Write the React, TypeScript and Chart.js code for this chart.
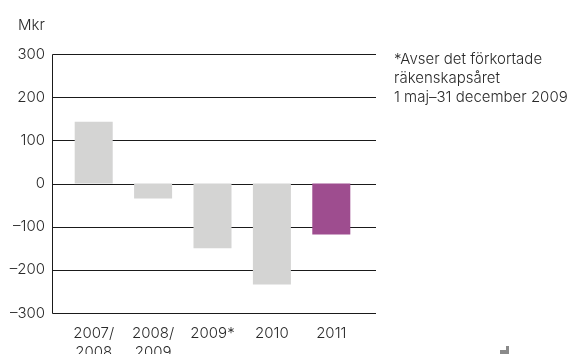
import React, { useEffect, useRef } from "react";
import { Chart, registerables } from "chart.js";

Chart.register(...registerables);

const categories: string[][] = [["2007/", "2008"], ["2008/", "2009"], ["2009*"], ["2010"], ["2011"]];
const values: number[] = [143, -35, -150, -234, -118];
const barColors: string[] = ["#d4d4d3", "#d4d4d3", "#d4d4d3", "#d4d4d3", "#9e4d8f"];
const yTicks: number[] = [-300, -200, -100, 0, 100, 200, 300];
const unitLabel = "Mkr";
const noteLines: string[] = ["*Avser det förkortade", "räkenskapsåret", "1 maj–31 december 2009"];

const FONT = "Inter, 'Liberation Sans', Arial, sans-serif";
const WEIGHT = "300";
const TEXT = "#2a2a2a";

const decorPlugin = {
  id: "decor",
  beforeDatasetsDraw(chart: any) {
    const { ctx, chartArea, scales } = chart;
    const y = scales.y;
    const left = Math.round(chartArea.left - 12) + 0.5;
    const right = Math.round(chartArea.right + 15);
    ctx.save();
    ctx.strokeStyle = "#1a1a1a";
    ctx.lineWidth = 1;
    yTicks.forEach((t) => {
      const py = Math.round(y.getPixelForValue(t)) + 0.5;
      ctx.beginPath();
      ctx.moveTo(left, py);
      ctx.lineTo(right, py);
      ctx.stroke();
    });
    const top = Math.round(y.getPixelForValue(300)) + 0.5;
    const bot = Math.round(y.getPixelForValue(-300)) + 0.5;
    ctx.beginPath();
    ctx.moveTo(left, top);
    ctx.lineTo(left, bot);
    ctx.stroke();
    ctx.restore();
  },
  afterDraw(chart: any) {
    const { ctx, chartArea } = chart;
    ctx.save();
    ctx.fillStyle = TEXT;
    ctx.font = `${WEIGHT} 15px ${FONT}`;
    ctx.textBaseline = "middle";
    ctx.textAlign = "left";
    ctx.fillText(unitLabel, 18, 25);
    const nx = chartArea.right + 33;
    noteLines.forEach((l, i) => ctx.fillText(l, nx, 59 + i * 19));
    // small corner mark
    ctx.fillStyle = "#8a8a8a";
    ctx.fillRect(506, 346, 3, 8);
    ctx.fillRect(500, 350, 9, 4);
    ctx.restore();
  },
};

export default function App() {
  const ref = useRef<HTMLCanvasElement>(null);
  useEffect(() => {
    if (!ref.current) return;
    const chart = new Chart(ref.current, {
      type: "bar",
      data: {
        labels: categories,
        datasets: [
          {
            data: values,
            backgroundColor: barColors,
            borderWidth: 0,
            categoryPercentage: 1,
            barPercentage: 0.64,
          },
        ],
      },
      options: {
        animation: false,
        responsive: false,
        maintainAspectRatio: false,
        layout: { padding: { left: 0, right: 210, top: 54, bottom: 0 } },
        plugins: { legend: { display: false }, tooltip: { enabled: false } },
        scales: {
          x: {
            offset: true,
            grid: { display: false, drawTicks: false },
            border: { display: false },
            ticks: {
              color: TEXT,
              font: { family: FONT, size: 15, weight: WEIGHT, lineHeight: 1.25 },
              padding: 11,
              maxRotation: 0,
              autoSkip: false,
            },
            afterFit: (s: any) => {
              s.height = 41;
            },
          },
          y: {
            min: -300,
            max: 300,
            grid: { display: false, drawTicks: false },
            border: { display: false },
            afterBuildTicks: (s: any) => {
              s.ticks = yTicks.map((v) => ({ value: v }));
            },
            ticks: {
              color: TEXT,
              font: { family: FONT, size: 15, weight: WEIGHT },
              padding: 19,
              callback: (v: any) => (Number(v) < 0 ? "–" + Math.abs(Number(v)) : String(v)),
            },
            afterFit: (s: any) => {
              s.width = 64;
            },
          },
        },
      },
      plugins: [decorPlugin],
    });
    return () => chart.destroy();
  }, []);
  return (
    <div style={{ position: "absolute", left: 0, top: 0, width: 571, height: 354, background: "#fff" }}>
      <canvas ref={ref} width={571} height={354} style={{ width: 571, height: 354 }} />
    </div>
  );
}
